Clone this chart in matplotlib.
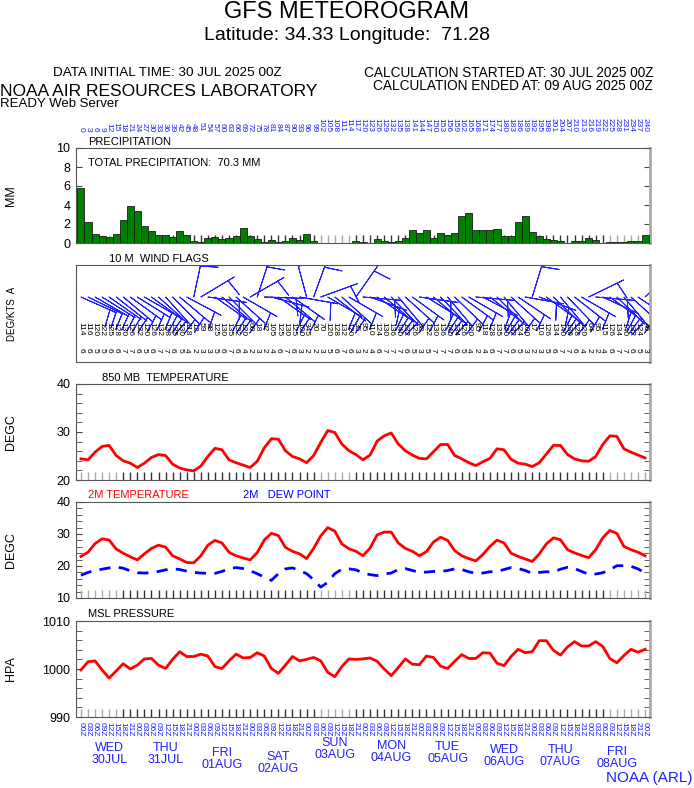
import numpy as np
import matplotlib
matplotlib.use("Agg")
from matplotlib import pyplot as plt
from matplotlib.ticker import MultipleLocator

plt.rcParams['font.family'] = ['Liberation Sans', 'DejaVu Sans']

W, H = 694, 788

# forecast hours, every 3 h out to 240 h
hours = list(range(0, 243, 3))
utc_labels = ["%02dZ" % (h % 24) for h in hours]

day_names = ["WED", "THU", "FRI", "SAT", "SUN", "MON", "TUE", "WED", "THU", "FRI"]
day_dates = ["30JUL", "31JUL", "01AUG", "02AUG", "03AUG", "04AUG", "05AUG", "06AUG", "07AUG", "08AUG"]
day_index = [4, 12, 20, 28, 36, 44, 52, 60, 68, 76]

# 3-hourly precipitation (mm)
precip = [5.8, 2.2, 0.93, 0.72, 0.62, 0.97, 2.4, 3.9, 3.35, 1.76,
          1.28, 0.8, 0.8, 0.65, 1.28, 0.86, 0.24, 0.07, 0.52, 0.65,
          0.45, 0.55, 0.69, 1.6, 0.72, 0.45, 0.07, 0.28, 0.07, 0.17,
          0.52, 0.34, 0.97, 0.24, 0.02, 0, 0, 0, 0, 0.24,
          0.14, 0, 0.45, 0.2, 0.1, 0.24, 0.52, 1.38, 1.03, 1.34,
          0.52, 1.03, 0.83, 1.07, 2.8, 3.14, 1.34, 1.34, 1.34, 1.45,
          0.72, 0.72, 2.17, 2.86, 1.2, 0.69, 0.45, 0.31, 0.17, 0.03,
          0.2, 0.2, 0.55, 0.31, 0.03, 0.07, 0.07, 0.1, 0.2, 0.2, 0.8]

# 10 m wind direction (deg) and speed (kts)
wdir = [114, 116, 120, 122, 125, 128, 130, 126, 122, 120,
        126, 132, 138, 135, 130, 118, 12, 59, 98, 125,
        130, 135, 132, 120, 60, 18, 92, 105, 125, 130,
        125, 100, 345, 20, 70, 120, 128, 132, 120, 35,
        95, 110, 124, 130, 136, 140, 132, 126, 98, 122,
        130, 136, 140, 134, 126, 120, 95, 118, 128, 135,
        140, 132, 124, 100, 17, 110, 126, 134, 140, 136,
        128, 120, 64, 95, 115, 126, 134, 140, 132, 124, 46]
wspd = [6, 6, 5, 5, 6, 6, 7, 7, 6, 5,
        6, 7, 7, 6, 5, 4, 2, 3, 3, 5,
        6, 7, 6, 4, 2, 3, 2, 4, 6, 7,
        6, 3, 2, 2, 3, 5, 6, 7, 6, 3,
        2, 4, 6, 7, 7, 7, 6, 5, 3, 5,
        7, 7, 7, 6, 5, 4, 2, 4, 6, 7,
        7, 6, 5, 3, 2, 3, 5, 6, 7, 7,
        6, 4, 2, 2, 4, 6, 7, 7, 6, 5, 3]

t850 = [24.4, 24.2, 25.8, 27.0, 27.2, 25.1, 24.0, 23.5, 22.6, 23.5,
        24.7, 25.3, 25.1, 23.3, 22.5, 22.1, 21.9, 22.9, 24.9, 26.6,
        26.3, 24.2, 23.6, 23.1, 22.6, 23.9, 26.7, 28.6, 28.5, 26.1,
        24.9, 24.4, 23.6, 25.1, 27.8, 30.3, 29.9, 27.5, 26.1, 25.3,
        24.2, 25.2, 28.1, 29.2, 29.8, 27.5, 26.1, 25.2, 24.5, 24.4,
        25.9, 27.4, 27.4, 25.1, 24.4, 23.6, 23.0, 23.8, 24.5, 26.5,
        26.3, 24.3, 23.5, 23.3, 22.8, 23.6, 25.4, 27.2, 27.2, 25.3,
        24.4, 24.0, 23.9, 24.9, 27.4, 29.2, 29.1, 26.5, 25.8, 25.2, 24.6]

t2m = [23.0, 24.3, 27.0, 28.5, 28.1, 25.3, 24.0, 22.9, 21.9, 23.8,
       25.5, 26.5, 25.9, 23.2, 22.2, 21.1, 21.0, 23.2, 26.5, 28.0,
       27.2, 24.3, 23.2, 22.5, 21.9, 24.2, 28.1, 30.2, 29.5, 25.8,
       24.6, 23.8, 22.3, 25.5, 29.4, 32.0, 30.9, 26.9, 25.4, 24.6,
       23.2, 25.6, 29.7, 30.6, 30.6, 27.2, 25.5, 24.6, 23.2, 24.5,
       27.5, 29.0, 28.0, 24.8, 23.2, 22.3, 21.6, 23.6, 26.1, 28.1,
       27.2, 24.0, 23.0, 22.2, 21.4, 23.8, 26.9, 28.8, 28.2, 25.1,
       24.1, 23.3, 22.6, 25.1, 28.8, 31.1, 30.2, 26.1, 25.1, 24.3, 23.2]

dew2m = [17.1, 18.0, 18.6, 19.0, 19.4, 19.7, 19.3, 18.5, 17.9, 17.8,
         17.9, 18.3, 18.8, 19.1, 18.9, 18.4, 18.0, 17.8, 17.7, 17.7,
         18.3, 19.2, 19.5, 19.2, 18.5, 17.6, 16.5, 15.5, 17.6, 19.1,
         19.4, 18.6, 17.6, 15.7, 13.4, 14.9, 17.6, 19.0, 19.1, 18.8,
         17.8, 17.3, 17.0, 17.5, 17.8, 18.9, 19.2, 18.6, 18.0, 18.1,
         18.3, 18.3, 18.6, 19.1, 18.9, 18.2, 17.7, 17.8, 18.2, 18.3,
         18.9, 19.5, 19.2, 18.6, 17.7, 18.0, 18.2, 18.1, 19.0, 19.6,
         19.2, 18.3, 17.4, 17.5, 17.9, 18.8, 20.1, 20.1, 19.9, 19.1, 17.8]

mslp = [999.8, 1001.5, 1001.7, 999.8, 998.1, 999.6, 1001.1, 1000.0, 1000.8, 1002.1,
        1002.2, 1000.8, 1000.1, 1002.0, 1003.6, 1002.6, 1002.6, 1003.1, 1002.7, 1000.5,
        1000.1, 1001.7, 1003.1, 1002.3, 1002.4, 1003.4, 1002.7, 1000.1, 999.1, 1000.8,
        1002.6, 1001.7, 1002.0, 1002.4, 1001.7, 999.3, 998.4, 1000.5, 1002.1, 1002.0,
        1002.1, 1002.3, 1001.6, 1000.0, 998.6, 1000.3, 1002.1, 1001.0, 1000.9, 1002.7,
        1002.4, 1000.6, 1000.1, 1001.6, 1003.0, 1002.2, 1002.2, 1003.4, 1003.3, 1001.2,
        1000.7, 1002.6, 1004.1, 1003.4, 1003.6, 1005.9, 1005.9, 1003.9, 1002.9, 1004.6,
        1005.7, 1004.8, 1004.8, 1005.7, 1004.7, 1002.2, 1001.3, 1002.8, 1004.1, 1003.5, 1004.1]

x = np.arange(len(hours))
gray_ticks = set(range(0, 6)) | set(range(34, 39)) | set(range(75, 81))
tick_colors = ['#aaaaaa' if i in gray_ticks else '#333333' for i in x]
BLUE = '#2020ff'
LABEL_X = (17 - 76) / 574

fig = plt.figure(figsize=(W / 100, H / 100), dpi=100)


def panel(top, bottom):
    return fig.add_axes([76 / W, 1 - bottom / H, 574 / W, (bottom - top) / H])


def frame(ax, ylabel, size=9):
    ax.set_xlim(-0.7, 80.7)
    for s in ['top', 'bottom', 'left']:
        ax.spines[s].set_color('#555555')
    ax.spines['right'].set_color('#aaaaaa')
    ax.spines['right'].set_linewidth(2)
    ax.set_xticks([])
    ax.set_ylabel(ylabel, fontsize=size)
    ax.yaxis.set_label_coords(LABEL_X, 0.5)


def style(ax, lo, hi, step, minor, ylabel):
    frame(ax, ylabel)
    ax.set_ylim(lo, hi)
    ax.set_yticks(np.arange(lo, hi + 0.1, step))
    ax.yaxis.set_minor_locator(MultipleLocator(minor))
    ax.tick_params(axis='y', which='both', direction='in', right=True, length=4,
                   color='#444444', labelsize=9, pad=4)
    ax.vlines(x, 0, 0.085, transform=ax.get_xaxis_transform(), colors=tick_colors, lw=1)


# header
fig.text(0.5, 1 - 12 / H, "GFS METEOROGRAM", ha='center', va='center', fontsize=17)
fig.text(0.5, 1 - 35 / H, "Latitude: 34.33 Longitude:  71.28", ha='center', va='center', fontsize=14)
fig.text(53 / W, 1 - 73 / H, "DATA INITIAL TIME: 30 JUL 2025 00Z", ha='left', va='center', fontsize=9.7)
fig.text(653 / W, 1 - 73 / H, "CALCULATION STARTED AT: 30 JUL 2025 00Z", ha='right', va='center', fontsize=9.8)
fig.text(653 / W, 1 - 86 / H, "CALCULATION ENDED AT: 09 AUG 2025 00Z", ha='right', va='center', fontsize=9.8)
fig.text(0, 1 - 91 / H, "NOAA AIR RESOURCES LABORATORY", ha='left', va='center', fontsize=12.5)
fig.text(0, 1 - 104 / H, "READY Web Server", ha='left', va='center', fontsize=9.5)

# precipitation
ax1 = panel(148, 243)
style(ax1, 0, 10, 2, 2, "MM")
ax1.bar(x, precip, width=1.0, color='#008000', edgecolor='#1a1a1a', linewidth=0.6, zorder=3)
ax1.text(1, 1 + 6 / 95, "PRECIPITATION", transform=ax1.get_xaxis_transform(), fontsize=8, va='center')
ax1.text(1, 1 - 15 / 95, "TOTAL PRECIPITATION:  70.3 MM", transform=ax1.get_xaxis_transform(), fontsize=8, va='center')
for i, h in enumerate(hours):
    ax1.text(i, 1 + 16 / 95, str(h), transform=ax1.get_xaxis_transform(), rotation=-90,
             ha='center', va='bottom', fontsize=6, color=BLUE)

# wind flags
ax2 = panel(265, 362)
frame(ax2, "DEG/KTS  A", size=7)
ax2.set_ylim(0, 1)
ax2.set_yticks([])
rad = np.deg2rad(wdir)
u = -np.array(wspd) * np.sin(rad)
v = -np.array(wspd) * np.cos(rad)
ax2.barbs(x, np.full(len(x), 0.67), u, v, length=7.5, color=BLUE, linewidth=0.7,
          barb_increments=dict(half=1, full=1000, flag=2000),
          sizes=dict(emptybarb=0, height=0.9), rounding=False)
for i in x:
    ax2.text(i, 0.41, str(wdir[i]), rotation=-90, ha='center', va='top', fontsize=6)
    ax2.text(i, 0.14, str(wspd[i]), rotation=-90, ha='center', va='top', fontsize=6)
ax2.text(4, 1 + 6 / 97, "10 M  WIND FLAGS", transform=ax2.get_xaxis_transform(), fontsize=8, va='center')

# 850 mb temperature
ax3 = panel(384, 480)
style(ax3, 20, 40, 10, 2, "DEGC")
ax3.plot(x, t850, color='red', lw=2)
ax3.text(3, 1 + 6 / 96, "850 MB  TEMPERATURE", transform=ax3.get_xaxis_transform(), fontsize=8, va='center')

# 2 m temperature and dew point
ax4 = panel(502, 598)
style(ax4, 10, 40, 10, 2, "DEGC")
ax4.plot(x, t2m, color='red', lw=2)
ax4.plot(x, dew2m, color='blue', lw=2, dashes=(4, 3))
ax4.text(1, 1 + 7 / 96, "2M TEMPERATURE", transform=ax4.get_xaxis_transform(), fontsize=8, va='center', color='red')
ax4.text(23, 1 + 7 / 96, "2M   DEW POINT", transform=ax4.get_xaxis_transform(), fontsize=8, va='center', color='blue')

# sea level pressure
ax5 = panel(621, 717)
style(ax5, 990, 1010, 10, 2, "HPA")
ax5.plot(x, mslp, color='red', lw=2)
ax5.text(1, 1 + 7 / 96, "MSL PRESSURE", transform=ax5.get_xaxis_transform(), fontsize=8, va='center')
for i, lab in enumerate(utc_labels):
    ax5.text(i, -5 / 96, lab, transform=ax5.get_xaxis_transform(), rotation=-90,
             ha='center', va='top', fontsize=6, color=BLUE)

# day labels below the time axis
day_y = [748, 748, 753, 757, 743, 746, 747, 750, 750, 752]
for idx, name, date, yp in zip(day_index, day_names, day_dates, day_y):
    ax5.text(idx, -(yp - 717) / 96, name, transform=ax5.get_xaxis_transform(),
             ha='center', va='center', fontsize=9, color=BLUE)
    ax5.text(idx, -(yp + 12 - 717) / 96, date, transform=ax5.get_xaxis_transform(),
             ha='center', va='center', fontsize=9, color=BLUE)

fig.text(692 / W, 1 - 778 / H, "NOAA (ARL)", ha='right', va='center', fontsize=11, color=BLUE)

fig.savefig("out.png", dpi=100)
